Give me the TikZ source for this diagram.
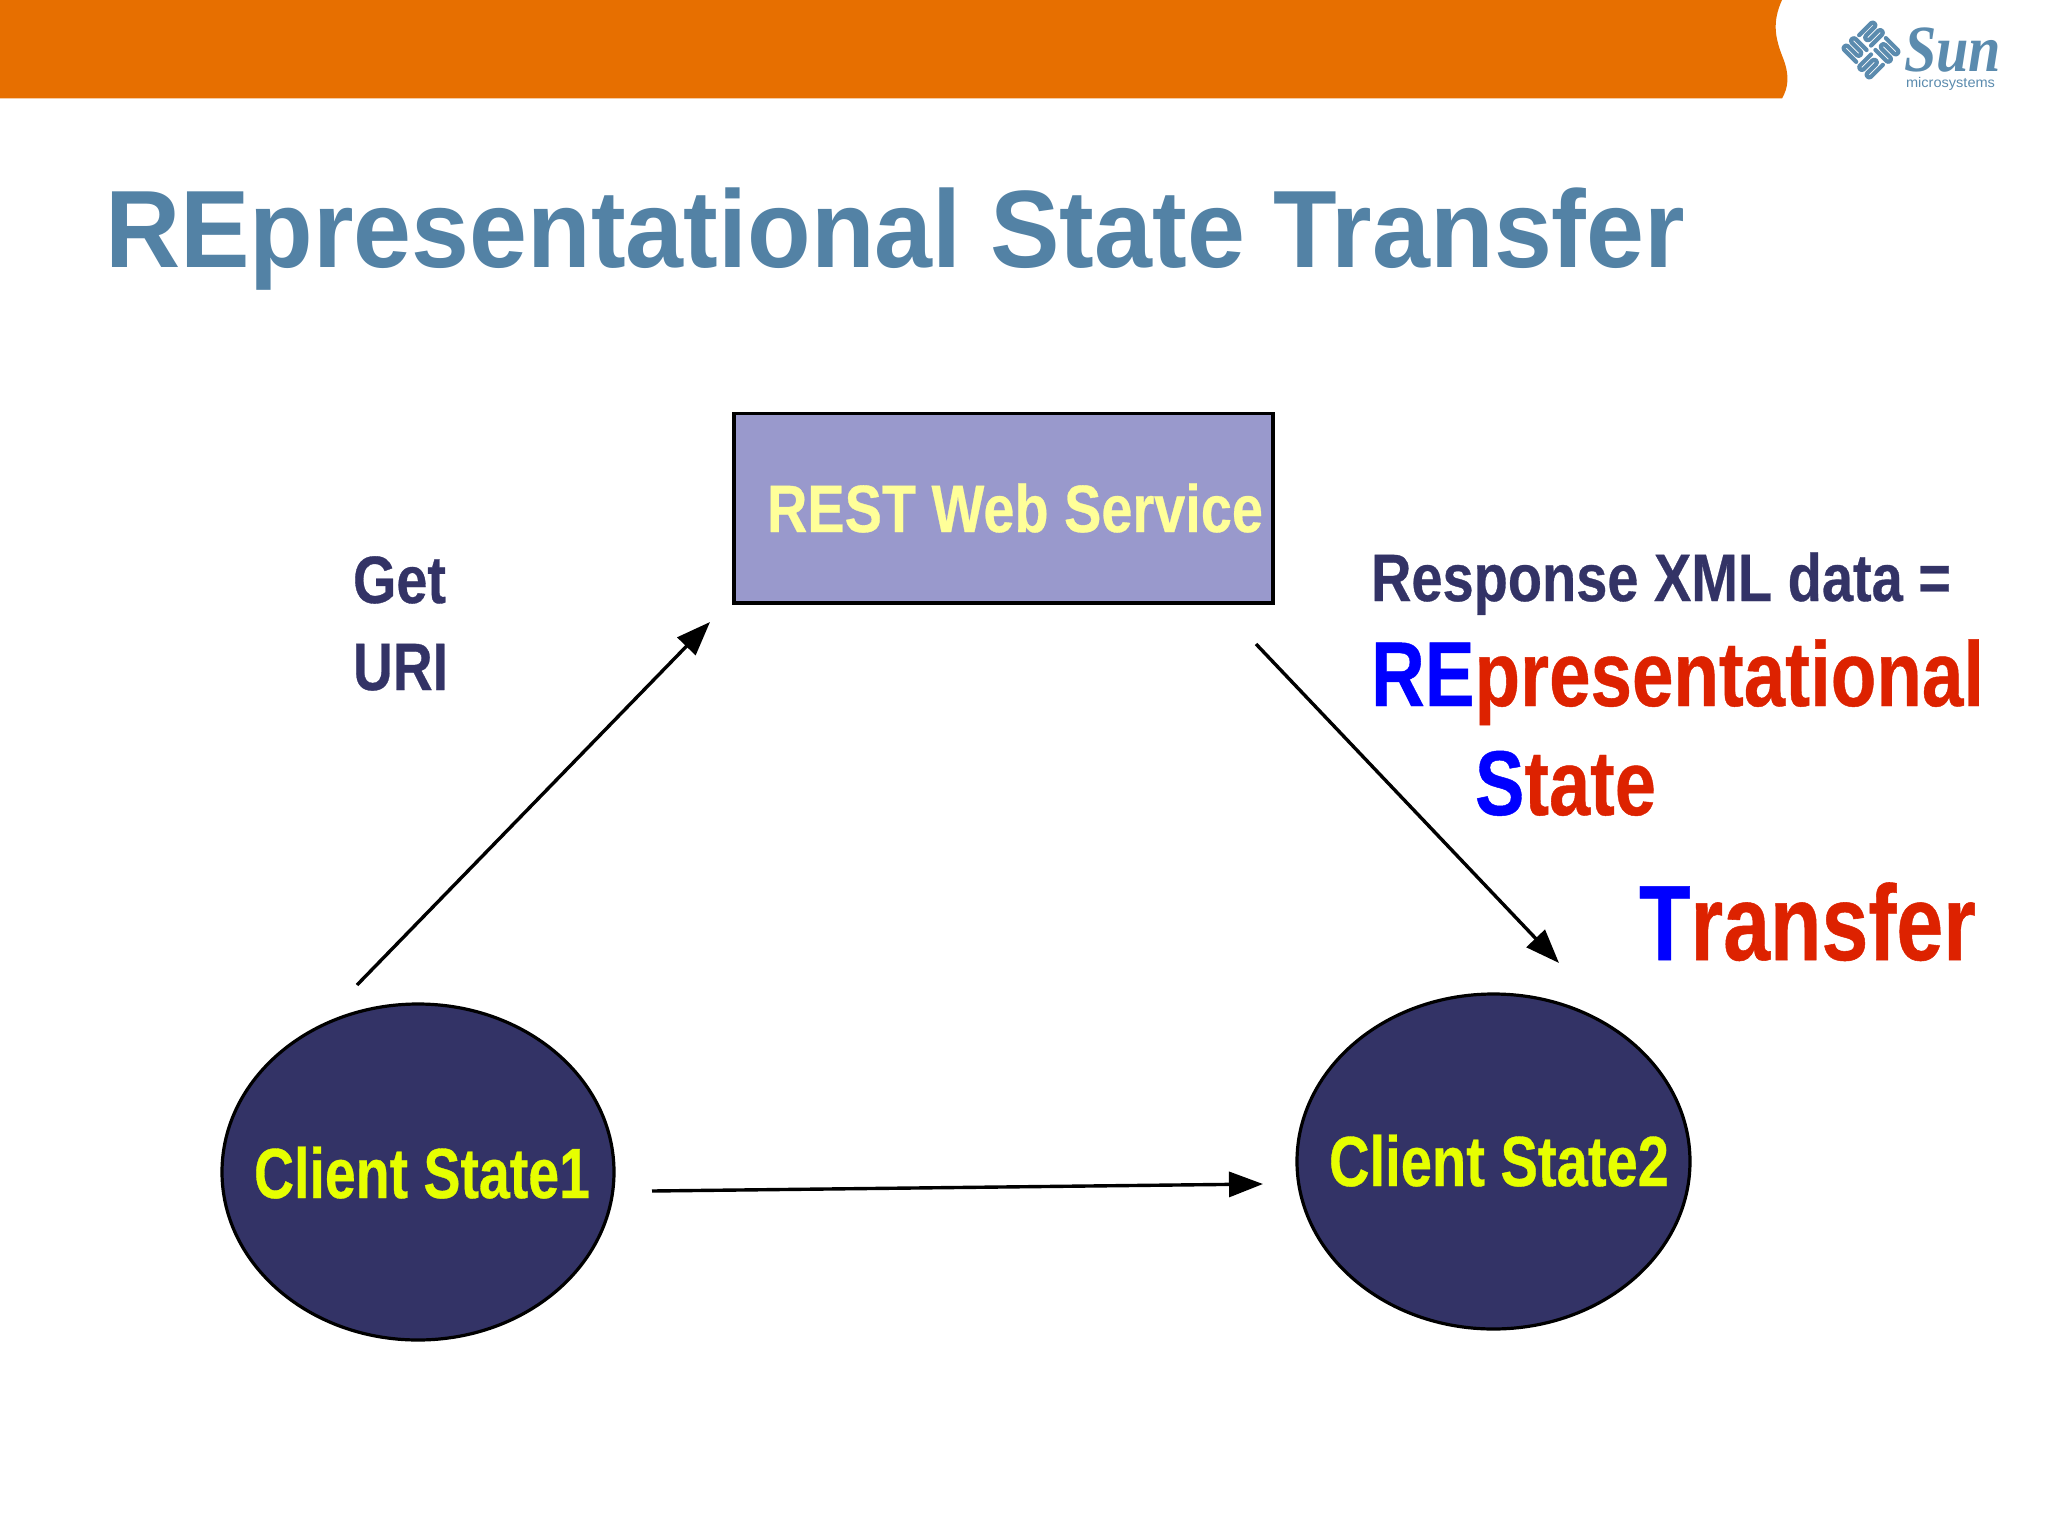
\documentclass[tikz,border=0pt]{standalone}
\usepackage{fontspec}
\setmainfont{Liberation Sans}
\newfontfamily\logoserif{Liberation Serif}
\newfontfamily\heavy[UprightFont=* Bold,FakeBold=0.5]{Liberation Sans}
\usetikzlibrary{arrows.meta,shapes.geometric}
\definecolor{bandorange}{HTML}{E76F00}
\definecolor{titleblue}{HTML}{5382A5}
\definecolor{navy}{HTML}{333366}
\definecolor{boxfill}{HTML}{9999CC}
\definecolor{paleyellow}{HTML}{FFFF99}
\definecolor{limeyellow}{HTML}{E6FF00}
\definecolor{acrored}{HTML}{DD2200}
\definecolor{logoblue}{HTML}{5B8BAE}
\newcommand{\fitw}[3]{\resizebox{#1pt}{\height}{\fontsize{#2pt}{#2pt}\selectfont\bfseries #3}}
\newcommand{\fith}[3]{\resizebox{#1pt}{\height}{\fontsize{#2pt}{#2pt}\heavy #3}}
\newcommand{\rp}[1]{\textcolor{blue}{#1}}
\tikzset{
  txt/.style={anchor=base west,inner sep=0pt,outer sep=0pt},
  conn/.style={draw=black,line width=3.4pt,-{Triangle[length=34pt,width=25pt]}},
  outline/.style={draw=black,line width=3.2pt},
  logostroke/.style={draw=logoblue,line width=4.2pt,line cap=round,line join=round},
}
\begin{document}
\begin{tikzpicture}[x=1pt,y=-1pt]
\useasboundingbox (0,0) rectangle (2048,1536);
\fill[white] (0,0) rectangle (2048,1536);
% band
\fill[bandorange] (0,0) -- (1782,0) .. controls (1772,22) and (1775,38) .. (1783,58)
  .. controls (1790,76) and (1788,88) .. (1782,98.5) -- (0,98.5) -- cycle;
% logo
\begin{scope}[shift={(1871,50)},rotate=45,scale=1.05]
  \foreach \a in {0,90,180,270}{
    \begin{scope}[rotate=\a]
      \draw[logostroke] (2,-18) -- (18,-18) .. controls (21,-18) and (21,-13) .. (18,-13)
         -- (6,-13) .. controls (3,-13) and (3,-8) .. (6,-8)
         -- (18,-8) .. controls (21,-8) and (21,-3) .. (18,-3) -- (3,-3);
    \end{scope}
  }
\end{scope}
\node[txt,text=logoblue] (sunword) at (1904,72) {\resizebox{97pt}{\height}{\fontsize{66pt}{66pt}\logoserif\bfseries\itshape Sun}};
\node[txt,text=logoblue] (micro) at (1906,88) {\resizebox{89pt}{\height}{\fontsize{14pt}{14pt}\selectfont microsystems}};
% title
\node[txt,text=titleblue] (title) at (105,267) {\fitw{1580}{110}{REpresentational State Transfer}};
% shapes
\path[outline,fill=boxfill] (734,413.5) rectangle (1273,603);
\node[txt,text=paleyellow] (svc) at (767,532) {\fith{496}{67}{REST Web Service}};
\node[outline,fill=navy,ellipse,minimum width=392pt,minimum height=336pt,inner sep=0pt] (c1) at (418,1172) {};
\node[outline,fill=navy,ellipse,minimum width=393pt,minimum height=335pt,inner sep=0pt] (c2) at (1493.5,1161.5) {};
\node[txt,text=limeyellow] (c1t) at (254,1198) {\fith{336}{71}{Client State1}};
\node[txt,text=limeyellow] (c2t) at (1329,1186) {\fith{340}{71}{Client State2}};
% labels
\node[txt,text=navy] (get) at (353,603) {\fith{93}{67}{Get}};
\node[txt,text=navy] (uri) at (353,690) {\fith{95}{67}{URI}};
\node[txt,text=navy] (resp) at (1371,601) {\fith{580}{67}{Response XML data =}};
\node[txt,text=acrored] (r1) at (1371,706) {\fith{613}{92}{\rp{RE}presentational}};
\node[txt,text=acrored] (r2) at (1475,815) {\fith{181}{92}{\rp{S}tate}};
\node[txt,text=acrored] (r3) at (1639,960) {\fith{337}{107}{\rp{T}ransfer}};
% connectors
\coordinate (a1s) at (357,985);
\coordinate (a1e) at (710,622);
\coordinate (a2s) at (1256,644);
\coordinate (a2e) at (1559,963);
\coordinate (a3s) at (652,1191);
\coordinate (a3e) at (1263,1184);
\draw[conn] (a1s) -- (a1e);
\draw[conn] (a2s) -- (a2e);
\draw[conn] (a3s) -- (a3e);
\end{tikzpicture}
\end{document}
